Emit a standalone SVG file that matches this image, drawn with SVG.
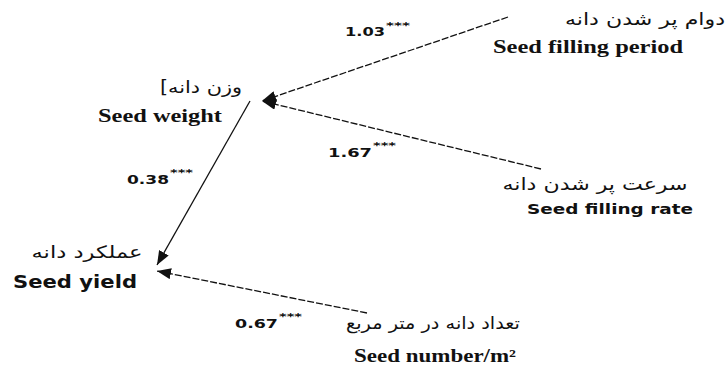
<svg xmlns="http://www.w3.org/2000/svg" width="727" height="380" viewBox="0 0 727 380">
  <style>
    .fa { font-family: "DejaVu Sans", "Noto Sans", sans-serif; font-size: 17px; fill: #111; }
    .ens { font-family: "Liberation Serif", "Times New Roman", serif; font-weight: bold; font-size: 18px; fill: #111; }
    .ensans { font-family: "DejaVu Sans", Verdana, sans-serif; font-weight: bold; fill: #111; }
    .num { font-family: "DejaVu Sans", Verdana, sans-serif; font-weight: bold; font-size: 13px; fill: #111; }
    .star { font-family: "DejaVu Sans", Verdana, sans-serif; font-weight: bold; font-size: 8px; fill: #111; }
    .edge { stroke: #111; stroke-width: 1.3; fill: none; }
    .dash { stroke-dasharray: 7 2; }
  </style>
  <defs>
    <marker id="ah" markerWidth="15" markerHeight="11" refX="14" refY="5.5" orient="auto" markerUnits="userSpaceOnUse">
      <path d="M0,0 L14,5.5 L0,11 z" fill="#111"/>
    </marker>
  </defs>
  <rect width="727" height="380" fill="#fff"/>

  <g id="connectors">
    <line class="edge dash" x1="508" y1="17" x2="262" y2="101" marker-end="url(#ah)"/>
    <line class="edge dash" x1="541" y1="169" x2="262" y2="101" marker-end="url(#ah)"/>
    <line class="edge" x1="250" y1="101" x2="157" y2="265" marker-end="url(#ah)"/>
    <line class="edge dash" x1="367" y1="313" x2="157" y2="271" marker-end="url(#ah)"/>
    <text class="num" x="345" y="36" textLength="40" lengthAdjust="spacingAndGlyphs">1.03</text>
    <text class="star" x="386" y="29" textLength="24" lengthAdjust="spacingAndGlyphs">***</text>
    <text class="num" x="328" y="157" textLength="44" lengthAdjust="spacingAndGlyphs">1.67</text>
    <text class="star" x="373" y="149" textLength="23" lengthAdjust="spacingAndGlyphs">***</text>
    <text class="num" x="127" y="184" textLength="42" lengthAdjust="spacingAndGlyphs">0.38</text>
    <text class="star" x="170" y="176" textLength="23" lengthAdjust="spacingAndGlyphs">***</text>
    <text class="num" x="235" y="328" textLength="43" lengthAdjust="spacingAndGlyphs">0.67</text>
    <text class="star" x="279" y="320" textLength="23" lengthAdjust="spacingAndGlyphs">***</text>
  </g>

  <g id="n-period">
    <text class="fa" x="645" y="25" text-anchor="middle" direction="rtl" textLength="160" lengthAdjust="spacingAndGlyphs">دوام پر شدن دانه</text>
    <text class="ens" x="493" y="53" textLength="190" lengthAdjust="spacingAndGlyphs">Seed filling period</text>
  </g>
  <g id="n-weight">
    <text class="fa" x="201" y="93" text-anchor="middle" direction="rtl" textLength="82" lengthAdjust="spacingAndGlyphs">وزن دانه]</text>
    <text class="ens" x="98" y="122" textLength="124" lengthAdjust="spacingAndGlyphs">Seed weight</text>
  </g>
  <g id="n-rate">
    <text class="fa" x="595" y="190" text-anchor="middle" direction="rtl" textLength="185" lengthAdjust="spacingAndGlyphs">سرعت پر شدن دانه</text>
    <text class="ensans" x="527" y="214" font-size="14" textLength="166" lengthAdjust="spacingAndGlyphs">Seed filling rate</text>
  </g>
  <g id="n-yield">
    <text class="fa" x="87" y="258" text-anchor="middle" direction="rtl" textLength="111" lengthAdjust="spacingAndGlyphs">عملکرد دانه</text>
    <text class="ensans" x="13" y="288" font-size="18" textLength="124" lengthAdjust="spacingAndGlyphs">Seed yield</text>
  </g>
  <g id="n-number">
    <text class="fa" x="433" y="329" text-anchor="middle" direction="rtl" textLength="174" lengthAdjust="spacingAndGlyphs">تعداد دانه در متر مربع</text>
    <text class="ens" x="354" y="362" textLength="162" lengthAdjust="spacingAndGlyphs">Seed number/m²</text>
  </g>
</svg>
